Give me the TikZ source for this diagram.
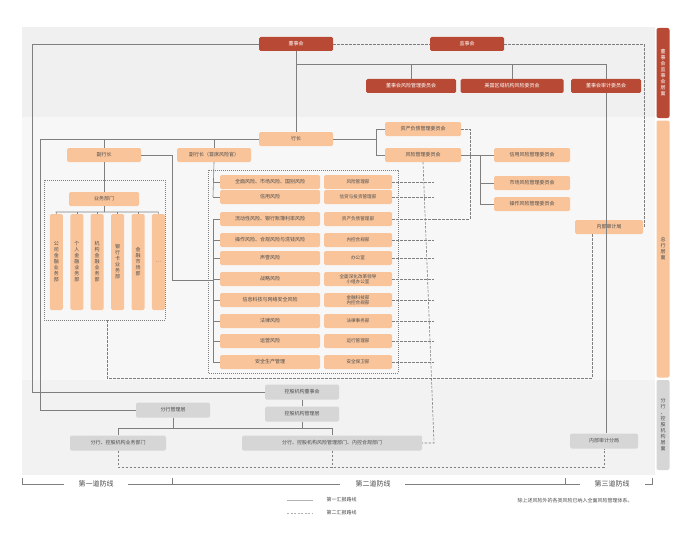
\documentclass[tikz,border=0pt]{standalone}
\usepackage{fontspec}
\setmainfont{Noto Sans CJK SC}
\usetikzlibrary{positioning,calc}
\definecolor{deepred}{HTML}{B84A35}
\definecolor{peach}{HTML}{F9C49A}
\definecolor{lgray}{HTML}{D6D6D6}
\definecolor{lineg}{HTML}{7F7F7F}
\begin{document}
\begin{tikzpicture}[x=1pt,y=-1pt,font=\fontsize{5}{6}\selectfont,
  redbox/.style={fill=deepred,text=white,rounded corners=1.5pt,minimum height=14pt,inner sep=0pt},
  orgbox/.style={fill=peach,text=black!70,rounded corners=1.5pt,minimum height=14pt,inner sep=0pt},
  graybox/.style={fill=lgray,text=black!70,rounded corners=1.5pt,minimum height=15pt,inner sep=0pt},
  colbox/.style={fill=peach,text=black!70,rounded corners=1.5pt,minimum width=13pt,minimum height=96pt,inner sep=0pt,align=center},
  solidln/.style={draw=lineg,line width=0.6pt},
  dashln/.style={draw=lineg,line width=0.6pt,dash pattern=on 2.5pt off 1.5pt},
  dotbox/.style={draw=lineg,line width=0.6pt,dash pattern=on 0.8pt off 1.2pt}]
\useasboundingbox (0,0) rectangle (700,532);
\fill[white] (0,0) rectangle (700,532);
% background bands
\fill[black!6] (22,27) rectangle (655,117);
\fill[black!3] (22,117) rectangle (655,380);
\fill[black!5] (22,380) rectangle (655,475);
\node[fill=deepred,text=white,rounded corners=2pt,minimum width=13pt,minimum height=90pt,inner sep=0pt,align=center] (lvA) at (663,73) {董\\事\\会\\监\\事\\会\\层\\面};
\node[fill=peach,text=black!70,rounded corners=2pt,minimum width=13pt,minimum height=257pt,inner sep=0pt,align=center] (lvB) at (663,249) {总\\行\\层\\面};
\node[fill=lgray,text=black!70,rounded corners=2pt,minimum width=13pt,minimum height=90pt,inner sep=0pt,align=center] (lvC) at (663,425) {分\\行\\、\\控\\股\\机\\构\\层\\面};
% board level
\node[redbox,minimum width=74pt] (board) at (296,44) {董事会};
\node[redbox,minimum width=74pt] (super) at (467,44) {监事会};
\node[redbox,minimum width=90pt] (brc) at (411,86) {董事会风险管理委员会};
\node[redbox,minimum width=103pt] (usrc) at (512,86) {美国区域机构风险委员会};
\node[redbox,minimum width=70pt] (audc) at (606,86) {董事会审计委员会};
% head office
\node[orgbox,minimum width=74pt] (pres) at (296,139) {行长};
\node[orgbox,minimum width=74pt] (vp) at (104,155) {副行长};
\node[orgbox,minimum width=74pt] (cro) at (214,155) {副行长（首席风险官）};
\node[orgbox,minimum width=76pt] (alco) at (423,129) {资产负债管理委员会};
\node[orgbox,minimum width=76pt] (rmc) at (423,155) {风险管理委员会};
\node[orgbox,minimum width=76pt] (crc) at (532,155) {信用风险管理委员会};
\node[orgbox,minimum width=76pt] (mrc) at (532,183) {市场风险管理委员会};
\node[orgbox,minimum width=76pt] (orc) at (532,204) {操作风险管理委员会};
\node[orgbox,minimum width=68pt] (iad) at (609,227) {内部审计局};
% business departments
\draw[dotbox] (44,180) rectangle (165,320);
\node[orgbox,minimum width=70pt] (biz) at (104,199) {业务部门};
\foreach \i/\t in {1/公\\司\\金\\融\\业\\务\\部,2/个\\人\\金\\融\\业\\务\\部,3/机\\构\\金\\融\\业\\务\\部,4/银\\行\\卡\\业\\务\\部,5/金\\融\\市\\场\\部,6/…}
  \node[colbox] (col\i) at ({36+20.4*\i},262) {\t};
\draw[solidln] (biz.south) -- (104,212);
\draw[solidln] (col1.north) -- (56,212) -- (col6.north |- 0,212) -- (col6.north);
\foreach \i in {2,...,5} \draw[solidln] (col\i.north) -- (col\i.north |- 0,212);
% risk list
\draw[dotbox] (208,170) rectangle (398,373);
\foreach \i/\y/\a/\b in {1/182/全面风险、市场风险、国别风险/风险管理部,2/197/信用风险/信贷与投资管理部,
  3/219/流动性风险、银行账簿利率风险/资产负债管理部,4/240/操作风险、合规风险与洗钱风险/内控合规部,
  5/258/声誉风险/办公室,6/279/战略风险/{全面深化改革领导\\小组办公室},7/300/信息科技与网络安全风险/{金融科技部\\内控合规部},
  8/321/法律风险/法律事务部,9/341/运营风险/运行管理部,10/362/安全生产管理/安全保卫部}{
  \node[orgbox,minimum width=100pt] (rk\i) at (270,\y) {\a};
  \node[orgbox,minimum width=68pt,align=center,font=\fontsize{4.6}{5}\selectfont] (dp\i) at (358,\y) {\b};
  \draw[dashln] (dp\i.east) -- (434,\y);
}
% branch level
\node[graybox,minimum width=74pt] (subb) at (302,392) {控股机构董事会};
\node[graybox,minimum width=74pt] (subm) at (302,414) {控股机构管理层};
\node[graybox,minimum width=74pt] (brm) at (173,410) {分行管理层};
\node[graybox,minimum width=96pt] (brbiz) at (118,443) {分行、控股机构业务部门};
\node[graybox,minimum width=180pt] (brrisk) at (332,443) {分行、控股机构风险管理部门、内控合规部门};
\node[graybox,minimum width=68pt] (bria) at (604,441) {内部审计分局};
% solid lines
\draw[solidln] (board.west) -- (32,44) -- (32,392) -- (subb.west);
\draw[solidln] (board.south) -- (pres.north);
\draw[solidln] (296,64) -- (606,64);
\draw[solidln] (brc.north) -- (411,64);
\draw[solidln] (usrc.north) -- (512,64);
\draw[solidln] (audc.north) -- (606,64);
\draw[solidln] (audc.south) -- (bria.north -| audc.south);
\draw[solidln] (pres.west) -- (40,139) -- (40,410) -- (brm.west);
\draw[solidln] (vp.north) -- (104,139);
\draw[solidln] (cro.north) -- (214,139);
\draw[solidln] (vp.south) -- (biz.north);
\draw[solidln] (vp.east) -- (172,155) -- (172,280) -- (213,280);
\draw[solidln] (cro.south) -- (213,197);
\draw[solidln] (213,182) -- (rk1.west);
\draw[solidln] (213,197) -- (rk2.west);
\draw[solidln] (213,219) -- (213,362);
\foreach \i in {3,...,10} \draw[solidln] (213,0 |- rk\i.west) -- (rk\i.west);
\draw[solidln] (pres.east) -- (376,139);
\draw[solidln] (alco.west) -- (376,129) -- (376,155) -- (rmc.west);
\draw[solidln] (rmc.east) -- (crc.west);
\draw[solidln] (480,155) -- (480,204) -- (orc.west);
\draw[solidln] (480,183) -- (mrc.west);
\draw[solidln] (subb.south) -- (subm.north);
\draw[solidln] (brm.south) -- (173,428);
\draw[solidln] (subm.south) -- (302,428);
\draw[solidln] (brbiz.north) -- (118,428) -- (332,428) -- (brrisk.north);
% dashed lines
\draw[dashln] (board.east) -- (super.west);
\draw[dashln] (super.east) -- (644,44) -- (644,227) -- (iad.east);
\draw[dashln] (alco.east) -- (470,129) -- (470,219) -- (434,219);
\draw[dashln] (rmc.south) -- (434,443) -- (brrisk.east);
\draw[dashln] (iad.south -| 592,0) -- (592,378) -- (107,378) -- (107,320);
\draw[dashln] (brbiz.south) -- (118,467) -- (604,467) -- (bria.south);
\draw[dashln] (brrisk.south) -- (332,467);
% lines of defence
\draw[lineg,line width=0.5pt] (22,478) -- (22,484) -- (64,484);
\draw[lineg,line width=0.5pt] (128,484) -- (172,484) (172,478) -- (172,484) -- (340,484);
\draw[lineg,line width=0.5pt] (405,484) -- (565,484) (565,478) -- (565,484) -- (580,484);
\draw[lineg,line width=0.5pt] (645,484) -- (652,484) -- (652,478);
\node[font=\fontsize{7}{8}\selectfont,text=black!70] (ld1) at (96,484) {第一道防线};
\node[font=\fontsize{7}{8}\selectfont,text=black!70] (ld2) at (373,484) {第二道防线};
\node[font=\fontsize{7}{8}\selectfont,text=black!70] (ld3) at (612,484) {第三道防线};
% legend
\coordinate (lg1) at (287,500);
\coordinate (lg2) at (287,513);
\draw[draw=black!30,line width=0.5pt] (lg1) -- ++(26,0) node[right=10pt,text=black!70] (lgt1) {第一汇报路线};
\draw[draw=black!30,line width=0.5pt,dash pattern=on 2pt off 1.5pt] (lg2) -- ++(26,0) node[right=10pt,text=black!70] (lgt2) {第二汇报路线};
\node[text=black!70] (note) at (575,501) {除上述风险外的各类风险已纳入全面风险管理体系。};
\end{tikzpicture}
\end{document}
